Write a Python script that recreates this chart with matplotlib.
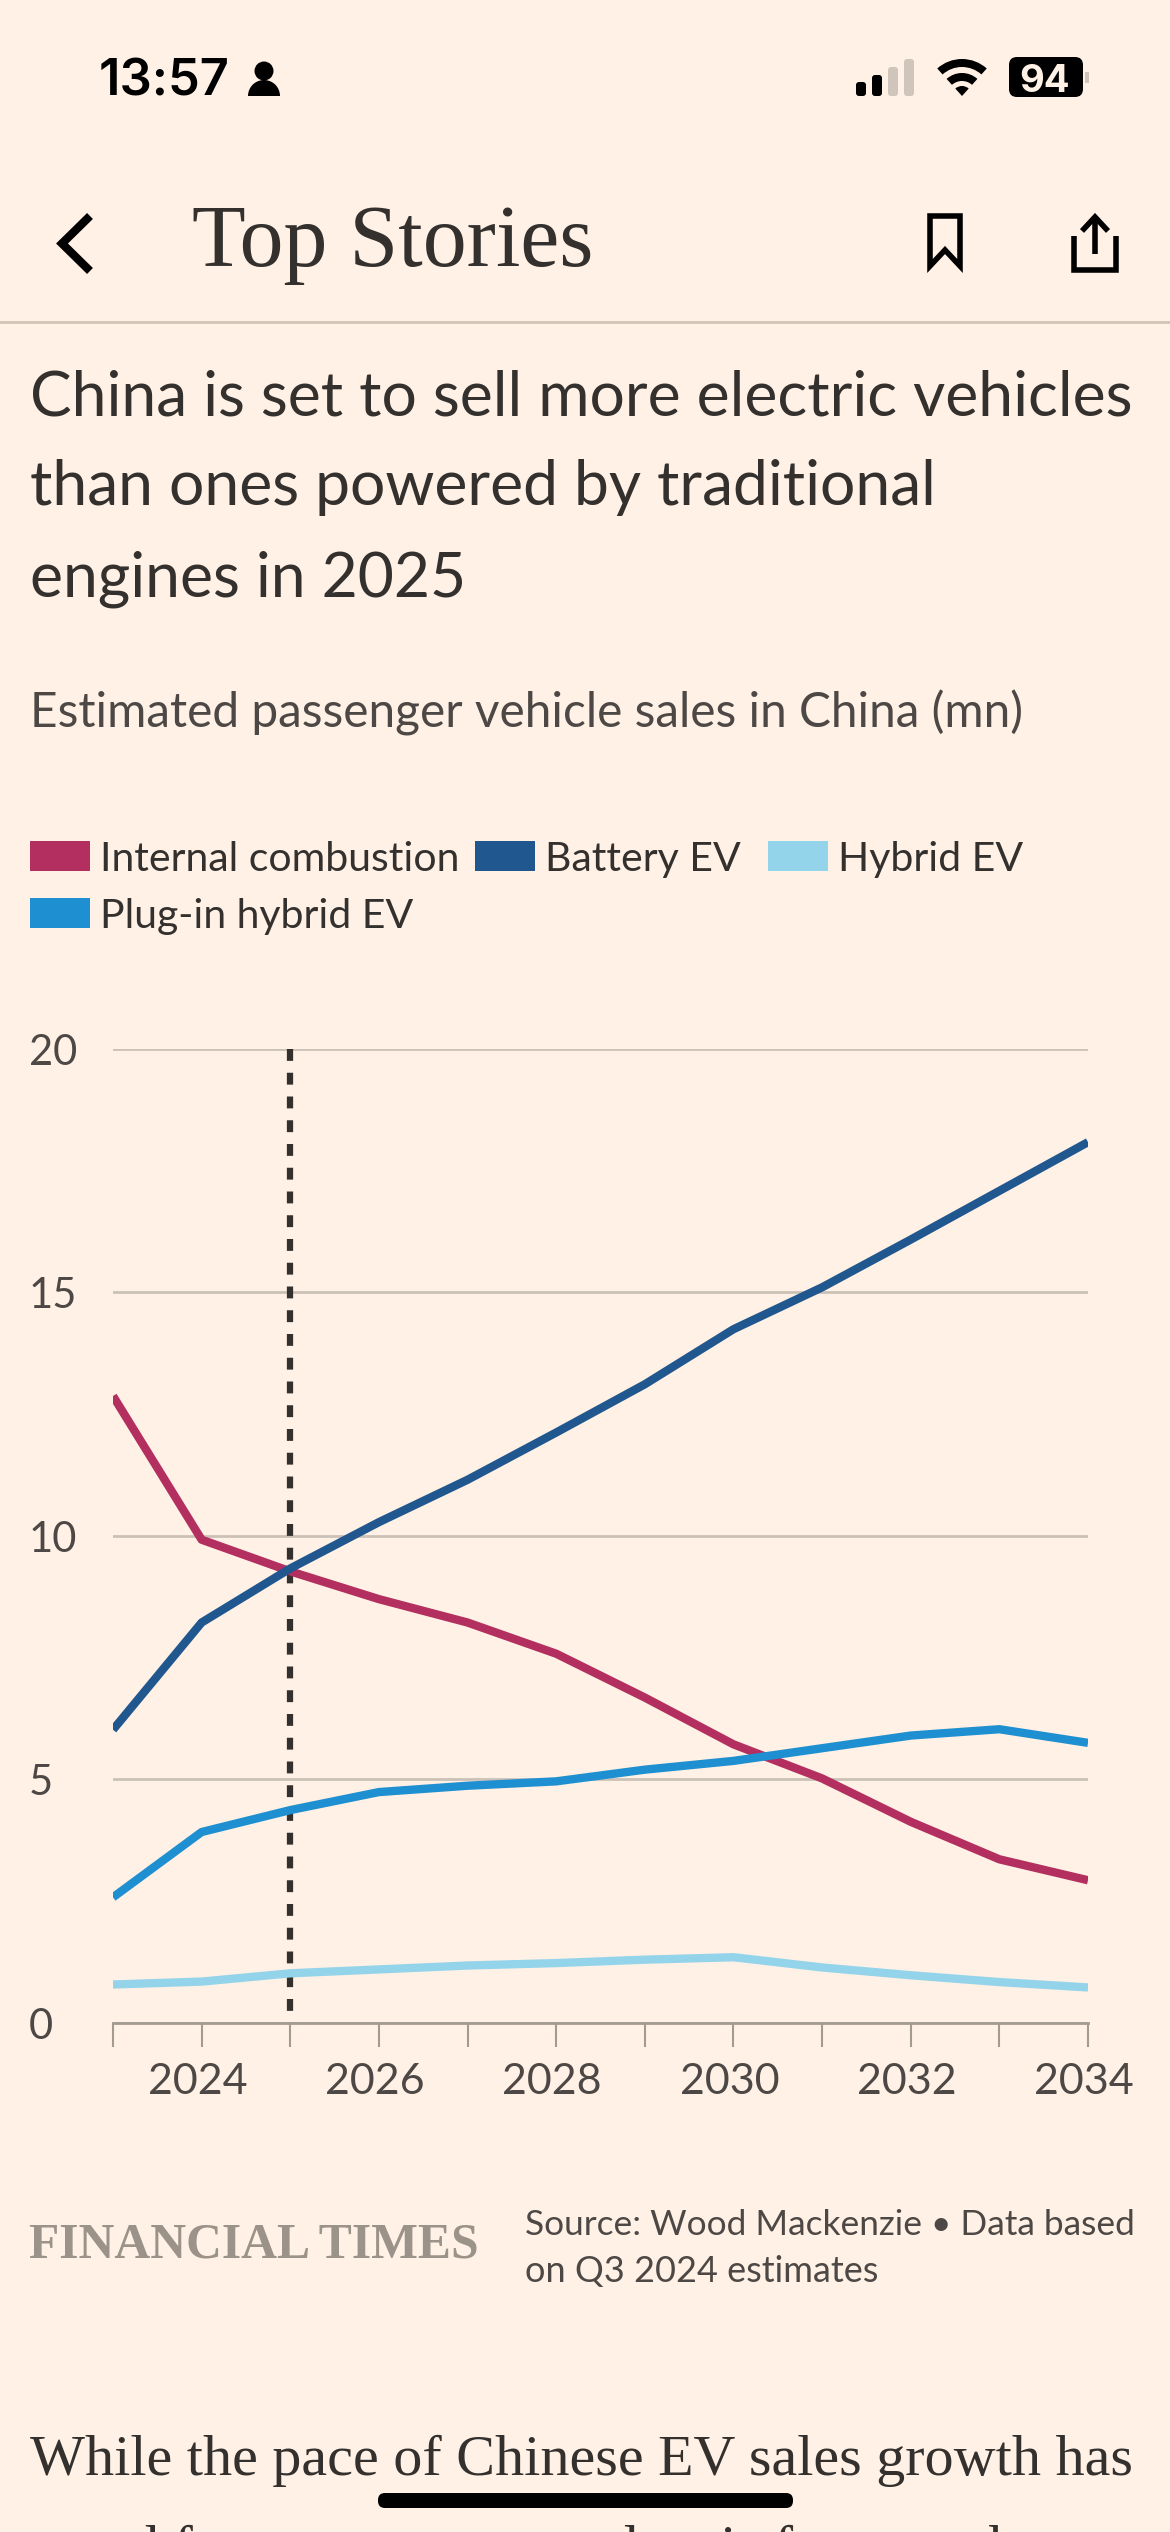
import matplotlib
matplotlib.use("Agg")
import matplotlib.pyplot as plt
from matplotlib.patches import Rectangle, FancyBboxPatch, Wedge, Circle, Polygon
from matplotlib.transforms import ScaledTranslation

W, H = 1170, 2532
BG = "#fff1e5"
INK = "#33302e"
TEXT = "#4d4845"
GRID = "#ccc1b7"

years = [2023, 2024, 2025, 2026, 2027, 2028, 2029, 2030, 2031, 2032, 2033, 2034]
internal_combustion = [12.87, 9.92, 9.27, 8.7, 8.22, 7.58, 6.68, 5.72, 5.02, 4.13, 3.36, 2.93]
battery_ev = [6.02, 8.22, 9.33, 10.28, 11.15, 12.12, 13.11, 14.24, 15.1, 16.08, 17.08, 18.08]
plug_in_hybrid = [2.58, 3.92, 4.37, 4.74, 4.87, 4.96, 5.2, 5.38, 5.64, 5.9, 6.03, 5.75]
hybrid_ev = [0.79, 0.85, 1.02, 1.1, 1.18, 1.23, 1.3, 1.35, 1.14, 0.98, 0.84, 0.73]

y_ticks = [0, 5, 10, 15, 20]
x_ticks = list(range(2023, 2035))
x_labels = [str(y) if y % 2 == 0 else "" for y in x_ticks]

C_ICE = "#b22f5f"
C_BEV = "#20578e"
C_HYB = "#94d4eb"
C_PHEV = "#1e8fd0"

fig = plt.figure(figsize=(W / 100, H / 100), dpi=100, facecolor=BG)

# page furniture, drawn in pixel coordinates (y runs downwards)
page = fig.add_axes([0, 0, 1, 1])
page.set_xlim(0, W)
page.set_ylim(H, 0)
page.axis("off")


def txt(x, y, s, size, color=TEXT, family="Lato", **kw):
    kw.setdefault("va", "baseline")
    page.text(x, y, s, fontsize=size, color=color, family=family, **kw)


# status bar
txt(99, 96, "13:57", 36.5, "#000000", "Inter", fontweight="semibold")
page.add_patch(Circle((264, 71), 9.5, color="black", lw=0))
page.add_patch(Wedge((264, 96), 16, 180, 360, color="black", lw=0))
bars = [(856, 82, "black"), (872, 75, "black"), (888, 67, "#cfc5bb"), (904, 59, "#cfc5bb")]
for x, top, col in bars:
    page.add_patch(FancyBboxPatch((x + 3, top + 3), 4, 96 - top - 6, boxstyle="round,pad=3", color=col, lw=0))
for r, w in [(37, 8), (23, 8), (10, 10)]:
    page.add_patch(Wedge((962, 96), r, 228, 312, width=w, color="black", lw=0))
page.add_patch(FancyBboxPatch((1085, 72), 4, 11, boxstyle="round,pad=0", color="#cfc5bb", lw=0))
page.add_patch(FancyBboxPatch((1017, 65), 58, 24, boxstyle="round,pad=8", color="black", lw=0))
txt(1045, 91.5, "94", 27.5, BG, "Inter", fontweight="bold", ha="center")

# nav bar
page.plot([90, 62, 90], [216, 243.5, 271], color="black", lw=6, solid_capstyle="butt", solid_joinstyle="miter")
txt(192, 266, "Top Stories", 63.3, INK, "Liberation Serif")
page.add_patch(Polygon([(930, 216), (960, 216), (960, 266), (945, 250), (930, 266)], closed=True,
                       fill=False, ec="black", lw=4, joinstyle="miter"))
page.plot([1074, 1074, 1116, 1116], [236, 270, 270, 236], color="black", lw=4,
          solid_joinstyle="miter", solid_capstyle="butt")
page.plot([1095, 1095], [218, 254], color="black", lw=4, solid_capstyle="butt")
page.plot([1082, 1095, 1108], [231, 217, 231], color="black", lw=4,
          solid_joinstyle="miter", solid_capstyle="butt")
page.plot([0, W], [322, 322], color="#d2c5b8", lw=2)

# headline block
for y, s in zip([415, 505, 596], ["China is set to sell more electric vehicles",
                                  "than ones powered by traditional",
                                  "engines in 2025"]):
    txt(30, y, s, 44.9, INK, "Lato")
txt(30, 728, "Estimated passenger vehicle sales in China (mn)", 34.4, TEXT, "Lato")

# legend
legend = [("Internal combustion", C_ICE, 30, 871), ("Battery EV", C_BEV, 475, 871),
          ("Hybrid EV", C_HYB, 768, 871), ("Plug-in hybrid EV", C_PHEV, 30, 928)]
for name, col, x, y in legend:
    page.add_patch(Rectangle((x, y - 30), 60, 30, color=col, lw=0))
    txt(x + 70, y, name, 29.5, INK, "Lato")

# the chart
ax = fig.add_axes([113 / W, 1 - 2023 / H, (1088 - 113) / W, (2023 - 1048.6) / H])
ax.set_facecolor("none")
ax.set_xlim(2023, 2034)
ax.set_ylim(0, 20)
for sp in ["top", "right", "left"]:
    ax.spines[sp].set_visible(False)
ax.spines["bottom"].set_color("#a39a92")
ax.spines["bottom"].set_linewidth(2)
ax.set_yticks(y_ticks)
ax.set_yticklabels([str(v) for v in y_ticks], fontsize=30, color=TEXT, family="Lato")
ax.tick_params(axis="y", length=0, pad=60.5)
shift_y = ScaledTranslation(0, -16 / 100, fig.dpi_scale_trans)
for lab in ax.get_yticklabels():
    lab.set_ha("left")
    lab.set_va("baseline")
    lab.set_transform(lab.get_transform() + shift_y)
ax.set_xticks(x_ticks)
ax.set_xticklabels(x_labels, fontsize=31, color=TEXT, family="Lato")
ax.tick_params(axis="x", length=17.6, width=1.5, color="#a39a92", pad=11)
shift_x = ScaledTranslation(-4 / 100, 0, fig.dpi_scale_trans)
for lab in ax.get_xticklabels():
    lab.set_transform(lab.get_transform() + shift_x)
    lab.set_clip_on(False)
ax.grid(axis="y", color=GRID, lw=2)
ax.set_axisbelow(True)

ax.plot([2025, 2025], [20, 0], color=INK, lw=4.5, ls=(0, (1.9, 1.9)), dash_capstyle="butt", zorder=2)
ax.plot(years, hybrid_ev, color=C_HYB, lw=6, solid_capstyle="butt", zorder=3)
ax.plot(years, internal_combustion, color=C_ICE, lw=6, solid_capstyle="butt", zorder=3)
ax.plot(years, plug_in_hybrid, color=C_PHEV, lw=6, solid_capstyle="butt", zorder=3)
ax.plot(years, battery_ev, color=C_BEV, lw=6, solid_capstyle="butt", zorder=3)

# footer
txt(29, 2257, "FINANCIAL TIMES", 35.7, "#9b9289", "Liberation Serif", fontweight="bold")
txt(525, 2235, "Source: Wood Mackenzie \u2022 Data based", 25.4, TEXT, "Lato")
txt(525, 2282, "on Q3 2024 estimates", 26, TEXT, "Lato")

txt(30, 2475, "While the pace of Chinese EV sales growth has", 41.9, INK, "Liberation Serif")
txt(30, 2565, "eased from recent years, data is forecast the", 41.9, INK, "Liberation Serif")
page.add_patch(FancyBboxPatch((385, 2500), 401, 1, boxstyle="round,pad=7", color="black", lw=0))

fig.savefig("out.png", dpi=100, facecolor=BG)
